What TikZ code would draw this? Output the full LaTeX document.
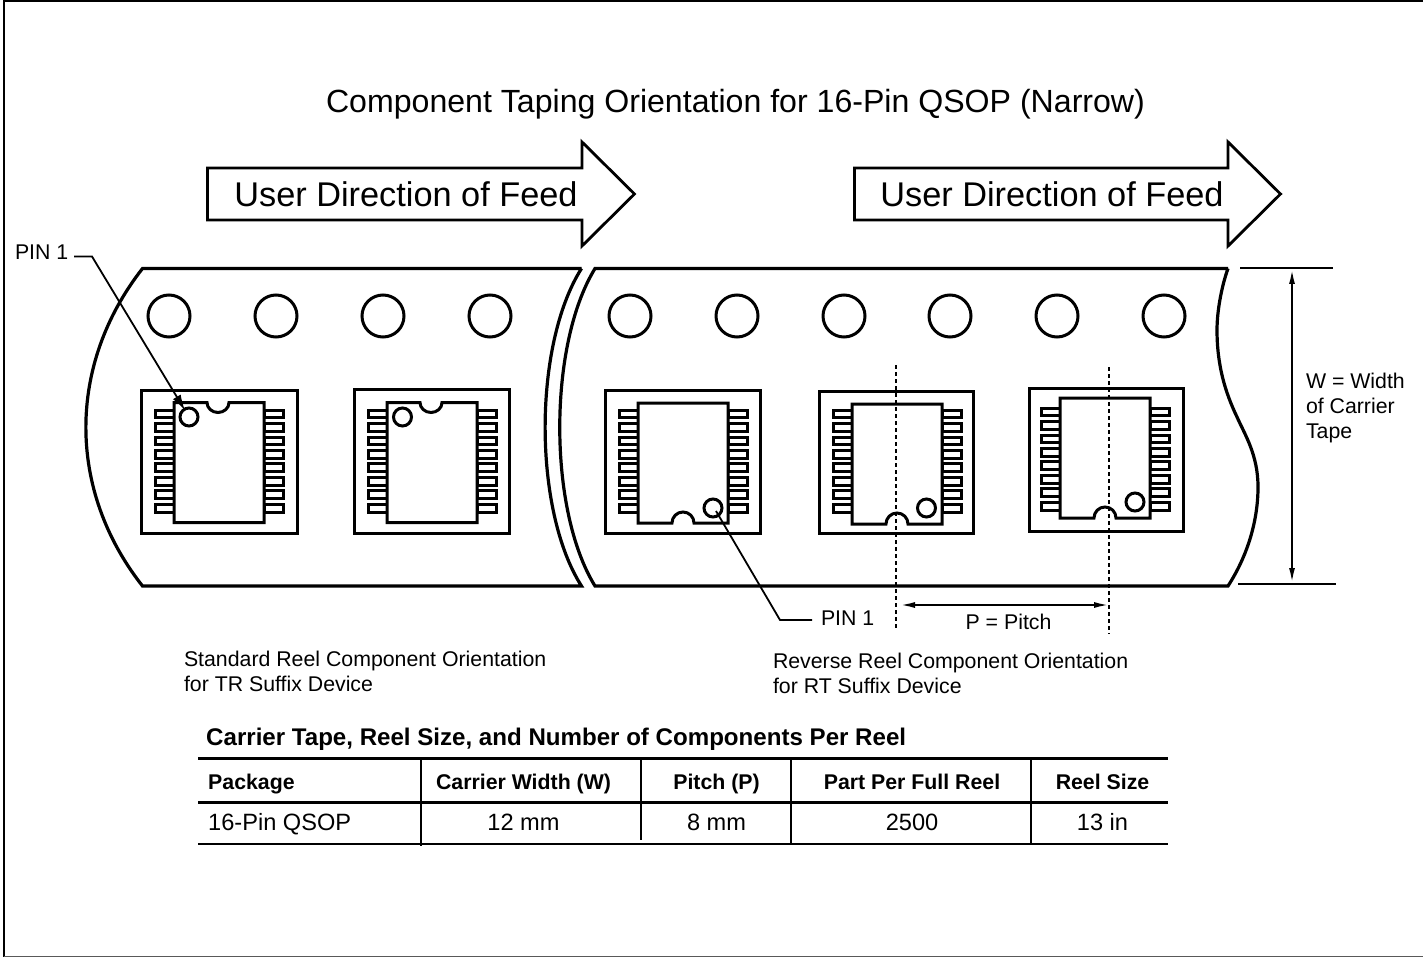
\documentclass[tikz,border=0pt]{standalone}
\usepackage{fontspec}
\setmainfont{Liberation Sans}
\usetikzlibrary{arrows.meta,calc}
\tikzset{
  x=1pt,y=-1pt,
  tape/.style={line width=3.2pt,line join=miter},
  holeo/.style={line width=3pt},
  pocketbox/.style={line width=3pt},
  bodyline/.style={line width=3pt,fill=white,line join=miter},
  leadbox/.style={line width=3pt},
  dim/.style={line width=2pt,{Latex[length=15pt,width=6pt]}-{Latex[length=15pt,width=6pt]}},
  leader/.style={line width=1.8pt},
  dashline/.style={line width=2pt,dash pattern=on 4pt off 3pt},
  feed/.style={line width=2.8pt,line join=miter},
  txt/.style={inner sep=0pt,outer sep=0pt,font=\fontsize{21.3}{25}\selectfont},
  ltxt/.style={txt,anchor=base west},
  feedtxt/.style={inner sep=0pt,anchor=base,font=\fontsize{34.3}{40}\selectfont},
  tabhead/.style={inner sep=0pt,anchor=base,font=\fontsize{21.3}{25}\selectfont\bfseries},
  tabcell/.style={inner sep=0pt,anchor=base,font=\fontsize{23.6}{27}\selectfont},
  thickrule/.style={line width=3pt},
  thinrule/.style={line width=2pt},
  vrule/.style={line width=1.8pt},
}
\newcommand\leadsat[2]{%
  \foreach \i in {0,...,7}{%
    \draw[leadbox] (#1-19,{#2+13.45*\i-3.9}) rectangle (#1,{#2+13.45*\i+3.9});
    \draw[leadbox] (#1+90,{#2+13.45*\i-3.9}) rectangle (#1+109,{#2+13.45*\i+3.9});
  }}
\newcommand\pkgtop[7]{%
  \draw[pocketbox] (#1,#2) rectangle (#3,#4);
  \leadsat{#5}{#7}
  \draw[bodyline] (#5,#6) -- (#5+44-11,#6) arc[start angle=180,end angle=360,x radius=11,y radius=-10] -- (#5+90,#6) -- (#5+90,#6+120) -- (#5,#6+120) -- cycle;
}
\newcommand\pkgbot[7]{%
  \draw[pocketbox] (#1,#2) rectangle (#3,#4);
  \leadsat{#5}{#7}
  \draw[bodyline] (#5,#6) -- (#5+90,#6) -- (#5+90,#6+120) -- (#5+45+11,#6+120) arc[start angle=0,end angle=180,x radius=11,y radius=-11] -- (#5,#6+120) -- cycle;
}
\begin{document}
\begin{tikzpicture}
\useasboundingbox (0,0) rectangle (1423,957);
\draw[line width=2pt] (4,958) -- (4,0.8) -- (1424,0.8);
\draw[line width=1.3pt,black!65] (4,956.3) -- (1424,956.3);

\node[inner sep=0pt,anchor=base,font=\fontsize{32.1}{38}\selectfont] (title) at (735.5,113) {Component Taping Orientation for 16-Pin QSOP (Narrow)};

\draw[feed] (207.5,168) -- (582,168) -- (582,142) -- (634.5,194) -- (582,246) -- (582,220) -- (207.5,220) -- cycle;
\draw[feed] (854.5,168) -- (1228,168) -- (1228,142) -- (1280.5,194) -- (1228,246) -- (1228,220) -- (854.5,220) -- cycle;
\node[feedtxt] (feedA) at (406,207) {User Direction of Feed};
\node[feedtxt] (feedB) at (1052,207) {User Direction of Feed};

\draw[tape] (581.5,268.5) -- (142.5,268.5) .. controls (67,365) and (67,490) .. (142.5,586) -- (581.5,586)
   .. controls (533,510) and (533,345) .. (581.5,268.5);
\draw[tape] (1228,268.5) -- (595,268.5) .. controls (548,345) and (548,510) .. (595,586) -- (1228,586)
   .. controls (1248,555) and (1258,520) .. (1258,487) .. controls (1258,455) and (1245,435) .. (1237,417) .. controls (1225,392) and (1217,365) .. (1217,330) .. controls (1217,310) and (1222,285) .. (1228,268.5);

\foreach \n/\cx in {a/169,b/276,c/383,d/490,e/630,f/737,g/844,h/950,i/1057,j/1164}
  \node[draw,circle,holeo,minimum size=42pt,inner sep=0pt] (hole\n) at (\cx,316) {};

\pkgtop{141.5}{390.5}{297}{533}{174}{402.5}{414}
\pkgtop{354.5}{389.5}{509}{533}{387}{402.5}{414}
\pkgbot{605.5}{390.5}{760}{533}{638}{403}{414}
\pkgbot{819}{391}{973.5}{533}{852}{404}{414}
\pkgbot{1029.5}{388}{1183.5}{531}{1060}{398}{412}

\node[draw,circle,holeo,minimum size=18pt,inner sep=0pt] (dotA) at (189,417) {};
\node[draw,circle,holeo,minimum size=18pt,inner sep=0pt] (dotB) at (402.5,417) {};
\node[draw,circle,holeo,minimum size=18pt,inner sep=0pt] (dotC) at (713,508) {};
\node[draw,circle,holeo,minimum size=18pt,inner sep=0pt] (dotD) at (926.5,508) {};
\node[draw,circle,holeo,minimum size=18pt,inner sep=0pt] (dotE) at (1135,502) {};

\node[ltxt] (pinA) at (15,260) {PIN 1};
\node[ltxt] (pinB) at (821,625) {PIN 1};
\coordinate (elbowA) at (92,256.5);
\coordinate (startA) at (74,256.5);
\coordinate (tipA) at (dotA.center);
\coordinate (elbowB) at (780,620);
\coordinate (endB) at (812,620);
\draw[leader,-{Latex[length=16pt,width=9pt]}] (startA) -- (elbowA) -- ($(elbowA)!0.96!(tipA)$);
\draw[leader] ($(dotC.center)+(3,3)$) -- (elbowB) -- (endB);

\coordinate (dashAt) at (896,365);
\coordinate (dashAb) at (896,629);
\coordinate (dashBt) at (1109,367);
\coordinate (dashBb) at (1109,634);
\draw[dashline] (dashAt) -- (dashAb);
\draw[dashline] (dashBt) -- (dashBb);
\coordinate (pitchL) at (900,605);
\coordinate (pitchR) at (1109,605);
\draw[dim] (pitchL) -- (pitchR);
\node[txt,anchor=base] (pitch) at (1008.5,629) {P = Pitch};

\coordinate (wTopL) at (1240,268);
\coordinate (wTopR) at (1333,268);
\coordinate (wBotL) at (1238,584);
\coordinate (wBotR) at (1336,584);
\draw[thinrule] (wTopL) -- (wTopR);
\draw[thinrule] (wBotL) -- (wBotR);
\coordinate (wUp) at (1292,269);
\coordinate (wDn) at (1292,583);
\draw[dim] (wUp) -- (wDn);
\node[ltxt] (wA) at (1306,388) {W = Width};
\node[ltxt] (wB) at (1306,413) {of Carrier};
\node[ltxt] (wC) at (1306,438) {Tape};

\node[ltxt] (capA) at (184,666) {Standard Reel Component Orientation};
\node[ltxt] (capB) at (184,691) {for TR Suffix Device};
\node[ltxt] (capC) at (773,668) {Reverse Reel Component Orientation};
\node[ltxt] (capD) at (773,693) {for RT Suffix Device};

\node[inner sep=0pt,anchor=base west,font=\fontsize{24.1}{28}\selectfont\bfseries] (tabtitle) at (206,745) {Carrier Tape, Reel Size, and Number of Components Per Reel};
\draw[thickrule] (198,758) -- (1168,758);
\draw[thickrule] (198,802) -- (1168,802);
\draw[thinrule] (198,843.5) -- (1168,843.5);
\draw[vrule] (421,758) -- (421,846);
\draw[vrule] (641,758) -- (641,840);
\draw[vrule] (791,758) -- (791,843);
\draw[vrule] (1031,758) -- (1031,843);
\node[tabhead,anchor=base west] (h1) at (208,789) {Package};
\node[tabhead] (h2) at (523.5,789) {Carrier Width (W)};
\node[tabhead] (h3) at (716.5,789) {Pitch (P)};
\node[tabhead] (h4) at (912,789) {Part Per Full Reel};
\node[tabhead] (h5) at (1102.5,789) {Reel Size};
\node[tabcell,anchor=base west] (c1) at (208,830) {16-Pin QSOP};
\node[tabcell] (c2) at (523.5,830) {12 mm};
\node[tabcell] (c3) at (716.5,830) {8 mm};
\node[tabcell] (c4) at (912,830) {2500};
\node[tabcell] (c5) at (1102.5,830) {13 in};
\end{tikzpicture}
\end{document}
